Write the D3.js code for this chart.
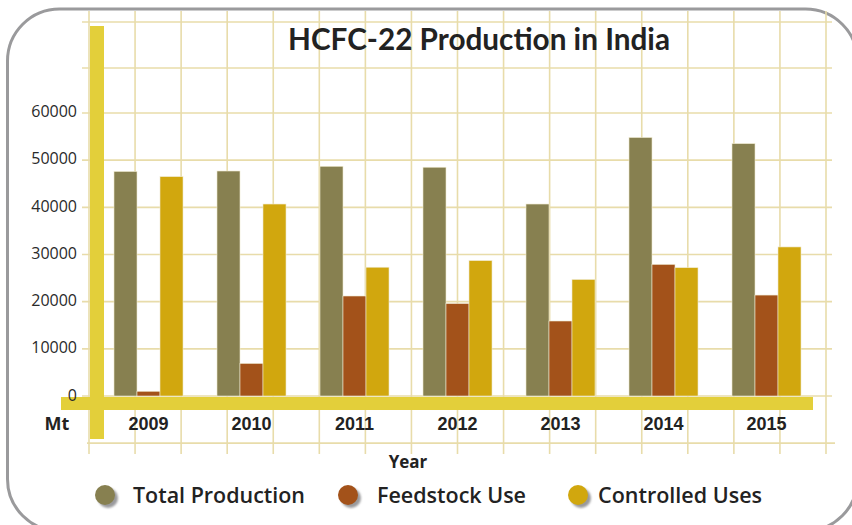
<!DOCTYPE html>
<html>
<head>
<meta charset="utf-8">
<script src="https://cdn.jsdelivr.net/npm/d3@7/dist/d3.min.js"></script>
<style>
  html, body { margin: 0; padding: 0; background: #fff; }
  svg { display: block; }
</style>
</head>
<body>
<svg id="chart" width="852" height="525"></svg>
<script>
const years = ["2009", "2010", "2011", "2012", "2013", "2014", "2015"];
const seriesNames = ["Total Production", "Feedstock Use", "Controlled Uses"];
const totalProduction = [47600, 47700, 48700, 48500, 40700, 54800, 53500];
const feedstockUse   = [1000, 6900, 21200, 19600, 15900, 27900, 21400];
const controlledUses = [46500, 40700, 27300, 28700, 24700, 27200, 31600];
const yTicks = [0, 10000, 20000, 30000, 40000, 50000, 60000];
const colors = ["#878050", "#a3521a", "#d1a70e"];

const svg = d3.select("#chart");

// outer rounded frame
svg.append("rect")
  .attr("x", 7.5).attr("y", 9).attr("width", 850).attr("height", 522)
  .attr("rx", 52).attr("ry", 52)
  .attr("fill", "#fff").attr("stroke", "#9a9a9c").attr("stroke-width", 3);

const y = d3.scaleLinear().domain([0, 60000]).range([396, 113]);
const x = d3.scaleBand().domain(years).range([97, 818]).paddingInner(0.33).paddingOuter(0.165);
const xs = d3.scaleBand().domain(seriesNames).range([0, x.bandwidth()]);

// decorative grid
const gridColor = "#e8dcaa";
const grid = svg.append("g");
const gridRows = d3.range(-10000, 80001, 10000);
grid.selectAll("line.h").data(gridRows).join("line")
  .attr("x1", d => d === -10000 ? 87 : 82)
  .attr("x2", d => d === -10000 ? 835 : 832)
  .attr("y1", d => d === 80000 ? 22 : (d === 70000 ? 68 : y(d)))
  .attr("y2", d => d === 80000 ? 22 : (d === 70000 ? 68 : y(d)))
  .attr("stroke", gridColor).attr("stroke-width", 1.6);
const gx = d3.scaleLinear().domain([0, 16]).range([89, 826]);
grid.selectAll("line.v").data(d3.range(17)).join("line")
  .attr("x1", d => gx(d)).attr("x2", d => gx(d))
  .attr("y1", 11).attr("y2", 454)
  .attr("stroke", gridColor).attr("stroke-width", 1.6);

// bars
const data = years.map((yr, i) => ({
  year: yr,
  values: [totalProduction[i], feedstockUse[i], controlledUses[i]]
}));
const groups = svg.append("g").selectAll("g").data(data).join("g")
  .attr("transform", d => `translate(${x(d.year)},0)`);
groups.selectAll("rect").data(d => d.values.map((v, j) => ({ v, s: seriesNames[j], j })))
  .join("rect")
  .attr("x", d => xs(d.s))
  .attr("width", xs.bandwidth())
  .attr("y", d => y(d.v))
  .attr("height", d => y(0) - y(d.v))
  .attr("fill", d => colors[d.j])
  .attr("stroke", "#efe9cf").attr("stroke-width", 0.6);

// yellow axis bands
const band = "#e3cf3a";
svg.append("rect").attr("x", 90).attr("y", 26).attr("width", 14).attr("height", 413).attr("fill", band);
svg.append("rect").attr("x", 61).attr("y", 397).attr("width", 752).attr("height", 13).attr("fill", band);

// y tick labels
svg.append("g").selectAll("text").data(yTicks).join("text")
  .attr("x", 77)
  .attr("y", d => y(d) + (d === 0 ? 1 : 0))
  .attr("text-anchor", "end").attr("dominant-baseline", "middle")
  .attr("font-family", "'Open Sans', sans-serif").attr("font-size", 16)
  .attr("fill", "#2a2a2a")
  .text(d => d);

// x tick labels
svg.append("g").selectAll("text").data(years).join("text")
  .attr("x", d => x(d) + x.bandwidth() / 2)
  .attr("y", 430)
  .attr("text-anchor", "middle")
  .attr("font-family", "'Liberation Sans', Arial, sans-serif").attr("font-weight", "bold")
  .attr("font-size", 18).attr("fill", "#222")
  .text(d => d);

svg.append("text").attr("x", 57).attr("y", 430).attr("text-anchor", "middle")
  .attr("font-family", "'Open Sans', sans-serif").attr("font-weight", "bold")
  .attr("font-size", 18).attr("fill", "#222").text("Mt");

svg.append("text").attr("x", 408).attr("y", 468).attr("text-anchor", "middle")
  .attr("font-family", "'Open Sans', sans-serif").attr("font-weight", "bold")
  .attr("font-size", 17).attr("fill", "#222").text("Year");

// title
svg.append("text").attr("x", 479).attr("y", 50).attr("text-anchor", "middle")
  .attr("font-family", "Lato, sans-serif").attr("font-weight", "bold")
  .attr("font-size", 30).attr("fill", "#222")
  .attr("textLength", 382).attr("lengthAdjust", "spacingAndGlyphs")
  .text("HCFC-22 Production in India");

// legend
const legendPos = [{ cx: 105, tx: 133, w: 172 }, { cx: 348, tx: 377, w: 149 }, { cx: 578, tx: 598, w: 164 }];
const defs = svg.append("defs");
const f = defs.append("filter").attr("id", "blur").attr("x", "-50%").attr("y", "-50%").attr("width", "200%").attr("height", "200%");
f.append("feGaussianBlur").attr("stdDeviation", 1.2);
const lg = svg.append("g").selectAll("g").data(seriesNames).join("g");
lg.append("circle").attr("cx", (d, i) => legendPos[i].cx + 3).attr("cy", 498)
  .attr("r", 10).attr("fill", "#9a9a9c").attr("filter", "url(#blur)");
lg.append("circle").attr("cx", (d, i) => legendPos[i].cx).attr("cy", 495)
  .attr("r", 10).attr("fill", (d, i) => colors[i]);
lg.append("text").attr("x", (d, i) => legendPos[i].tx).attr("y", 503)
  .attr("font-family", "'Open Sans', sans-serif").attr("font-weight", 600)
  .attr("font-size", 21).attr("fill", "#222")
  .attr("textLength", (d, i) => legendPos[i].w).attr("lengthAdjust", "spacingAndGlyphs")
  .text(d => d);
</script>
</body>
</html>
